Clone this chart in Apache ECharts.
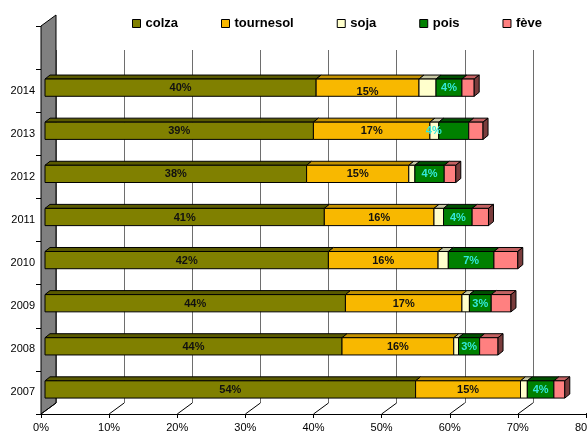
<!DOCTYPE html>
<html><head><meta charset="utf-8">
<script src="https://cdn.jsdelivr.net/npm/echarts@6/dist/echarts.min.js"></script>
<style>html,body{margin:0;padding:0;background:#fff}#c{width:587px;height:434px}</style>
</head><body><div id="c"></div>
<script>
// ---- data ----
const years = ['2007','2008','2009','2010','2011','2012','2013','2014'];
const colza     = [54.4, 43.6, 44.1, 41.6, 41.0, 38.4, 39.4, 39.8];
const tournesol = [15.4, 16.4, 17.1, 16.1, 16.1, 15.0, 17.1, 15.1];
const soja      = [1.0, 0.7, 1.1, 1.5, 1.4, 0.9, 1.3, 2.5];
const pois      = [3.9, 3.1, 3.2, 6.7, 4.2, 4.3, 4.4, 3.8];
const feve      = [1.6, 2.7, 2.9, 3.5, 2.4, 1.7, 2.1, 1.8];
const seriesNames = ['colza', 'tournesol', 'soja', 'pois', 'fève'];
const xTicks = [0, 10, 20, 30, 40, 50, 60, 70, 80];

// ---- style ----
const seriesValues = [colza, tournesol, soja, pois, feve];
const FONT = '"Liberation Sans", Arial, sans-serif';
const frontColors = ['#808000', '#F8B800', '#FFFFCC', '#008000', '#FF8080'];
const topColors   = ['#5A5A00', '#C49200', '#C8C8A2', '#005000', '#C46262'];
const sideColor = '#7A3C3C';
const labelColors = ['#111', '#111', null, '#33E8DA', null];
// label nudges (series index -> category index -> [dx, dy])
const labelNudge = { 1: { 7: [0, 4] }, 3: { 6: [-20, 0] } };
const PLANE = [4, -3];   // bar front plane offset from the axis plane
const DEPTH = [5, -4];   // bar depth
const BACK = [15, -11];  // back plane offset

const chart = echarts.init(document.getElementById('c'), null, { renderer: 'canvas' });

function barRender(si) {
  return function (params, api) {
    const ci = params.dataIndex;
    const p0 = api.coord([api.value(0), api.value(1)]);
    const p1 = api.coord([api.value(2), api.value(1)]);
    const band = api.size([0, 1])[1];
    const h = band * 0.4;
    const x0 = p0[0] + PLANE[0], x1 = p1[0] + PLANE[0];
    const yc = p0[1] + PLANE[1];
    const yT = yc - h / 2, yB = yc + h / 2;
    const st = { stroke: '#000', lineWidth: 1 };
    const children = [
      { type: 'polygon', shape: { points: [[x0, yT], [x1, yT], [x1 + DEPTH[0], yT + DEPTH[1]], [x0 + DEPTH[0], yT + DEPTH[1]]] },
        style: Object.assign({ fill: topColors[si] }, st) },
      { type: 'rect', shape: { x: x0, y: yT, width: x1 - x0, height: h },
        style: Object.assign({ fill: frontColors[si] }, st) }
    ];
    if (si === seriesValues.length - 1) {
      children.push({ type: 'polygon', shape: { points: [[x1, yT], [x1 + DEPTH[0], yT + DEPTH[1]], [x1 + DEPTH[0], yB + DEPTH[1]], [x1, yB]] },
        style: Object.assign({ fill: sideColor }, st) });
    }
    if (labelColors[si]) {
      const n = (labelNudge[si] && labelNudge[si][ci]) || [0, 0];
      children.push({ type: 'text', z2: 10,
        style: { text: Math.round(api.value(3)) + '%', x: (x0 + x1) / 2 + n[0], y: yc + n[1] + 0.5,
          align: 'center', verticalAlign: 'middle', fill: labelColors[si],
          font: 'bold 11px ' + FONT } });
    }
    return { type: 'group', children: children };
  };
}

const barSeries = seriesNames.map(function (name, si) {
  const data = years.map(function (y, ci) {
    let start = 0;
    for (let k = 0; k < si; k++) start += seriesValues[k][ci];
    const v = seriesValues[si][ci];
    return [start, ci, start + v, v];
  });
  return {
    name: name, type: 'custom', xAxisIndex: 0, yAxisIndex: 0,
    renderItem: barRender(si), data: data, clip: false, z: 5 + si,
    encode: { x: [0, 2], y: 1 },
    itemStyle: { color: frontColors[si] }
  };
});

const wallSeries = {
  name: 'wall', type: 'custom', xAxisIndex: 0, yAxisIndex: 0, z: 3, clip: false,
  data: [[0, 0]],
  renderItem: function (params, api) {
    const cs = params.coordSys;
    const x = cs.x, top = cs.y, bot = cs.y + cs.height;
    return { type: 'polygon', shape: { points: [[x, bot], [x + BACK[0], bot + BACK[1]], [x + BACK[0], top + BACK[1]], [x, top]] },
      style: { fill: '#808080', stroke: '#000', lineWidth: 1 } };
  }
};

const floorSeries = {
  name: 'floor', type: 'custom', xAxisIndex: 0, yAxisIndex: 0, z: 3, clip: false,
  data: xTicks.map(function (t) { return [t, 0]; }),
  renderItem: function (params, api) {
    const cs = params.coordSys;
    const p = api.coord([api.value(0), 0]);
    const bot = cs.y + cs.height;
    return { type: 'line', shape: { x1: p[0], y1: bot, x2: p[0] + BACK[0], y2: bot + BACK[1] },
      style: { stroke: '#000', lineWidth: 1 } };
  }
};

chart.setOption({
  animation: false,
  backgroundColor: '#fff',
  textStyle: { fontFamily: FONT },
  legend: {
    left: 127, top: 12, itemWidth: 8, itemHeight: 8, itemGap: 43,
    textStyle: { fontFamily: FONT, fontSize: 13, fontWeight: 'bold', color: '#000' },
    data: seriesNames.map(function (n, i) {
      return { name: n, icon: 'rect', itemStyle: { color: frontColors[i], borderColor: '#000', borderWidth: 1 } };
    })
  },
  grid: [
    { left: 41, width: 545, top: 26, bottom: 20, containLabel: false, outerBoundsMode: 'none' },
    { left: 41 + BACK[0], width: 545, top: 50, bottom: 20 - BACK[1], containLabel: false, outerBoundsMode: 'none' }
  ],
  xAxis: [
    { type: 'value', gridIndex: 0, min: 0, max: 80, interval: 10,
      axisLine: { show: true, lineStyle: { color: '#000', width: 1 } },
      axisTick: { show: true, length: 4, lineStyle: { color: '#000' } },
      axisLabel: { formatter: '{value}%', color: '#000', fontSize: 11, margin: 8, fontFamily: FONT },
      splitLine: { show: false } },
    { type: 'value', gridIndex: 1, min: 0, max: 80, interval: 10,
      axisLine: { show: false }, axisTick: { show: false }, axisLabel: { show: false },
      splitLine: { show: true, lineStyle: { color: '#6E6E6E', width: 1 } } }
  ],
  yAxis: [
    { type: 'category', gridIndex: 0, data: years.concat(['']),
      axisLine: { show: true, lineStyle: { color: '#000', width: 1 } },
      axisTick: { show: true, length: 5, lineStyle: { color: '#000' } },
      axisLabel: { color: '#000', fontSize: 11, margin: 6, fontFamily: FONT },
      splitLine: { show: false } },
    { type: 'value', gridIndex: 1, min: 0, max: 1, show: false, splitLine: { show: false } }
  ],
  series: [wallSeries, floorSeries].concat(barSeries)
});
</script>
</body></html>
